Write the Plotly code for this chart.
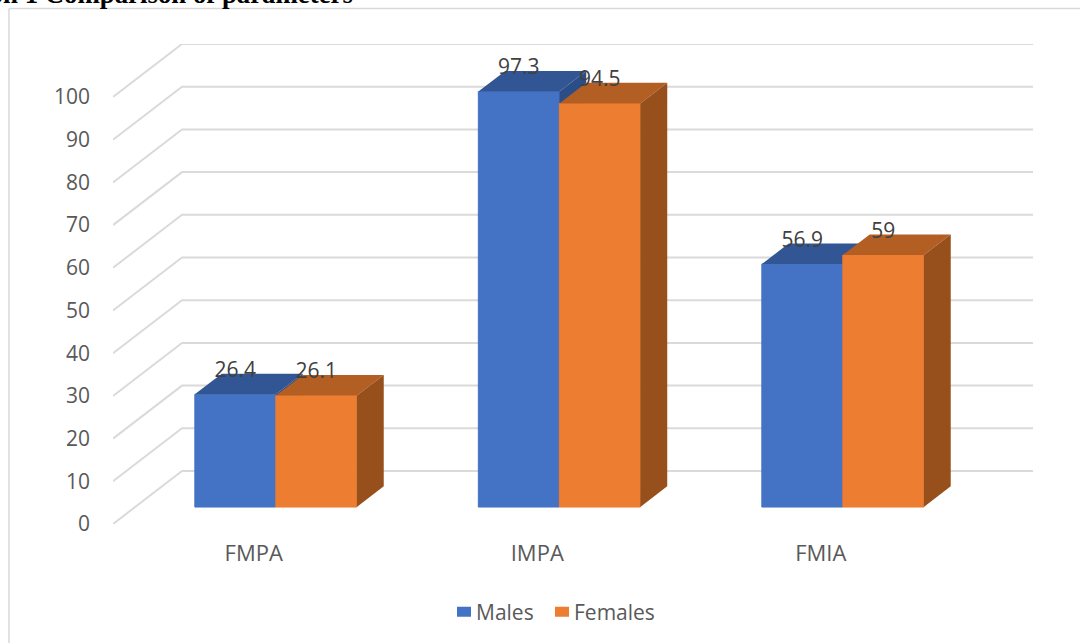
import plotly.graph_objects as go

# Chart values
categories = ["FMPA", "IMPA", "FMIA"]
males = [26.4, 97.3, 56.9]
females = [26.1, 94.5, 59]
value_ticks = list(range(0, 101, 10))

# Canvas and plot box, in pixels
WIDTH, HEIGHT = 1080, 643
BOX_LEFT, BOX_RIGHT, BOX_TOP, BOX_BOTTOM = 113, 1033, 44, 524
PX_PER_UNIT = 4.27
PX_PER_CATEGORY = 283.5

# Oblique projection: how far one full step of depth moves a point
DEPTH_X = 69 / PX_PER_CATEGORY      # in category units
DEPTH_Y = 53 / PX_PER_UNIT          # in value units
BAR_NEAR, BAR_FAR = 0.32, 0.71      # depth span of the columns
BAR_WIDTH = 1 / 3.5                 # gap width of 150 %

x_start = -0.5 + 1 / PX_PER_CATEGORY
x_range = [x_start, x_start + (BOX_RIGHT - BOX_LEFT) / PX_PER_CATEGORY]
y_range = [0, (BOX_BOTTOM - BOX_TOP) / PX_PER_UNIT]


def px(x, depth=0.0):
    return x + depth * DEPTH_X


def py(v, depth=0.0):
    return v + depth * DEPTH_Y


def column_traces(name, values, offset, front, top, side, xa, ya):
    lefts = [i + offset for i in range(len(values))]
    traces = [go.Bar(
        name=name, x=[px(l + BAR_WIDTH / 2, BAR_NEAR) for l in lefts], y=values,
        base=[py(0, BAR_NEAR)] * len(values), width=BAR_WIDTH,
        marker=dict(color=front, line=dict(color=front, width=1)),
        xaxis=xa, yaxis=ya, hoverinfo="skip", showlegend=False,
    )]
    for left, v in zip(lefts, values):
        right = left + BAR_WIDTH
        traces.append(go.Scatter(
            x=[px(left, BAR_NEAR), px(right, BAR_NEAR), px(right, BAR_FAR), px(left, BAR_FAR), px(left, BAR_NEAR)],
            y=[py(v, BAR_NEAR), py(v, BAR_NEAR), py(v, BAR_FAR), py(v, BAR_FAR), py(v, BAR_NEAR)],
            mode="lines", line=dict(width=0), fill="toself", fillcolor=top,
            showlegend=False, hoverinfo="skip", xaxis=xa, yaxis=ya,
        ))
        traces.append(go.Scatter(
            x=[px(right, BAR_NEAR), px(right, BAR_FAR), px(right, BAR_FAR), px(right, BAR_NEAR), px(right, BAR_NEAR)],
            y=[py(v, BAR_NEAR), py(v, BAR_FAR), py(0, BAR_FAR), py(0, BAR_NEAR), py(v, BAR_NEAR)],
            mode="lines", line=dict(width=0), fill="toself", fillcolor=side,
            showlegend=False, hoverinfo="skip", xaxis=xa, yaxis=ya,
        ))
    return traces


def legend_entry(name, color, legend_id):
    # A wide dashed stroke gives a square key that sits right beside its text
    return go.Scatter(x=[None], y=[None], name=name, mode="lines", legend=legend_id,
                      line=dict(color=color, width=14, dash="0px,16px,14px,200px"),
                      hoverinfo="skip")


fig = go.Figure()

# Side wall and back wall gridlines
grid_x, grid_y = [], []
for tick in value_ticks:
    grid_x += [x_range[0], px(x_range[0], 1), x_range[1], None]
    grid_y += [tick, py(tick, 1), py(tick, 1), None]
fig.add_trace(go.Scatter(x=grid_x, y=grid_y, mode="lines",
                         line=dict(color="#dadada", width=2),
                         showlegend=False, hoverinfo="skip"))

# Each series sits on its own axes so Females paints over the Males columns
fig.add_traces(column_traces("Males", males, -BAR_WIDTH, "#4472C4", "#325693", "#2B4D88", "x2", "y2"))
fig.add_traces(column_traces("Females", females, 0, "#ED7D31", "#B35E23", "#97501C", "x3", "y3"))
fig.add_trace(legend_entry("Males", "#4472C4", "legend"))
fig.add_trace(legend_entry("Females", "#ED7D31", "legend2"))

# Value labels floating above each column
label_lift = 22.7 / PX_PER_UNIT
for offset, values in ((-BAR_WIDTH, males), (0, females)):
    fig.add_trace(go.Scatter(
        x=[px(i + offset + BAR_WIDTH / 2, BAR_NEAR) for i in range(len(values))],
        y=[py(v, BAR_NEAR) + label_lift for v in values],
        text=[str(v) for v in values], mode="text", textposition="middle center",
        textfont=dict(family="Open Sans", size=21, color="#404040"),
        showlegend=False, hoverinfo="skip", xaxis="x4", yaxis="y4",
    ))

x_domain = [BOX_LEFT / WIDTH, BOX_RIGHT / WIDTH]
y_domain = [1 - BOX_BOTTOM / HEIGHT, 1 - BOX_TOP / HEIGHT]
overlay = dict(visible=False, fixedrange=True)
legend_style = dict(orientation="h", xanchor="left", y=1 - 612 / HEIGHT, yanchor="middle",
                    font=dict(size=21, color="#595959"), bgcolor="rgba(0,0,0,0)")

fig.update_layout(
    width=WIDTH, height=HEIGHT, margin=dict(l=0, r=0, t=0, b=0, autoexpand=False),
    paper_bgcolor="white", plot_bgcolor="rgba(0,0,0,0)",
    font=dict(family="Open Sans", color="#595959", size=21),
    barmode="overlay", showlegend=True,
    xaxis=dict(domain=x_domain, range=x_range, tickvals=list(range(len(categories))),
               ticktext=categories, showgrid=False, zeroline=False, showline=False,
               ticks="", ticklabelstandoff=14, tickfont=dict(size=22), fixedrange=True),
    yaxis=dict(domain=y_domain, range=y_range, tickvals=value_ticks, showgrid=False,
               zeroline=False, showline=False, ticks="", ticklabelstandoff=22,
               tickfont=dict(size=21), fixedrange=True),
    xaxis2=dict(overlaying="x", range=x_range, anchor="y2", **overlay),
    yaxis2=dict(overlaying="y", range=y_range, anchor="x2", **overlay),
    xaxis3=dict(overlaying="x", range=x_range, anchor="y3", **overlay),
    yaxis3=dict(overlaying="y", range=y_range, anchor="x3", **overlay),
    xaxis4=dict(overlaying="x", range=x_range, anchor="y4", **overlay),
    yaxis4=dict(overlaying="y", range=y_range, anchor="x4", **overlay),
    legend=dict(x=436 / WIDTH, **legend_style),
    legend2=dict(x=534 / WIDTH, **legend_style),
    shapes=[
        dict(type="line", xref="paper", yref="paper", x0=9 / WIDTH, x1=1, y0=1 - 8.5 / HEIGHT,
             y1=1 - 8.5 / HEIGHT, line=dict(color="#d9d9d9", width=1.5)),
        dict(type="line", xref="paper", yref="paper", x0=9 / WIDTH, x1=9 / WIDTH, y0=0,
             y1=1 - 8.5 / HEIGHT, line=dict(color="#d9d9d9", width=1.5)),
    ],
    annotations=[dict(
        text="<b>Graph 1 Comparison of parameters</b>", xref="paper", yref="paper",
        x=355 / WIDTH, xanchor="right", y=1 - 11 / HEIGHT, yanchor="bottom",
        showarrow=False, font=dict(family="Liberation Serif", size=26.8, color="black"),
    )],
)

fig.write_html("out.html")
